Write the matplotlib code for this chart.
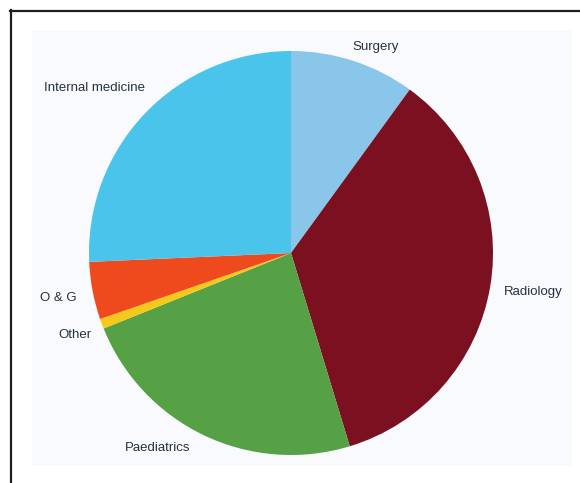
import numpy as np
import matplotlib.pyplot as plt
from matplotlib.patches import Rectangle
from matplotlib.lines import Line2D

# Share of cases by specialty (%)
specialties = ['Surgery', 'Radiology', 'Paediatrics', 'Other', 'O & G', 'Internal medicine']
shares = [10.0, 35.3, 23.6, 0.8, 4.6, 25.7]
colours = ['#8ac6ea', '#7a1020', '#56a045', '#f6c81a', '#ee4a1e', '#4ac4ea']

# label anchor points, pixels from the top-left of the image
label_px = [(376, 47), (533, 292), (158, 448), (75, 335), (58, 298), (95, 88)]

W, H = 580, 483
fig = plt.figure(figsize=(W / 100, H / 100), dpi=100)
fig.patch.set_facecolor('white')

# frame lines (top and left) and the pale panel behind the pie
fig.add_artist(Line2D([10 / W, 1], [1 - 11 / H, 1 - 11 / H], color='#1e1e1e', lw=1.6))
fig.add_artist(Line2D([11 / W, 11 / W], [0, 1 - 10 / H], color='#1e1e1e', lw=1.6))
fig.add_artist(Rectangle((32 / W, 1 - 466 / H), (572 - 32) / W, (466 - 30) / H,
                         transform=fig.transFigure, facecolor='#f9fafd',
                         edgecolor='none', zorder=0))

# pie
cx, cy, r = 291, 253, 202
ax = fig.add_axes([(cx - r) / W, (H - cy - r) / H, 2 * r / W, 2 * r / H])
ax.pie(shares, colors=colours, startangle=90, counterclock=False,
       wedgeprops=dict(linewidth=0))
ax.set_xlim(-1, 1)
ax.set_ylim(-1, 1)
ax.set_aspect('equal')
ax.axis('off')

for name, (px, py) in zip(specialties, label_px):
    fig.text(px / W, 1 - py / H, name, ha='center', va='center',
             fontsize=9.5, family='Liberation Sans', color='#26313f')

plt.savefig('out.png', dpi=100)
